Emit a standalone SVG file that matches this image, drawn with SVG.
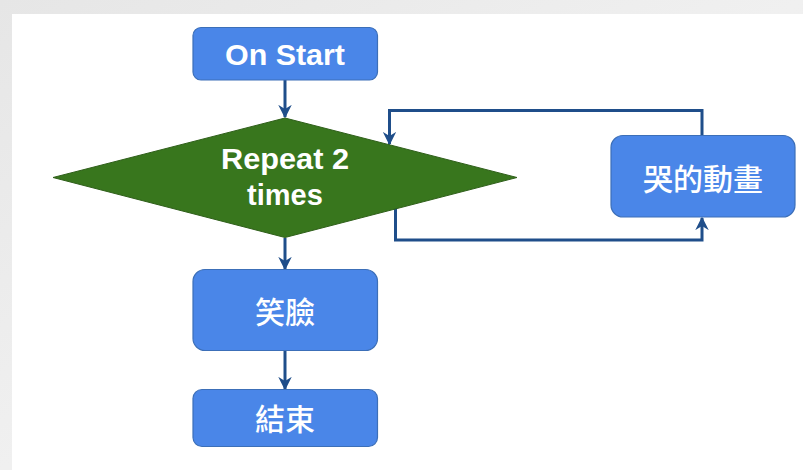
<svg xmlns="http://www.w3.org/2000/svg" width="803" height="470" viewBox="0 0 803 470">
<defs>
<style>
.box{fill:#4a86e8;stroke:#3c6fb8;stroke-width:1.2}
.dia{fill:#38761d;stroke:#2f5f1a;stroke-width:1}
.lbl{fill:#ffffff;font-family:"Liberation Sans","Noto Sans CJK TC",sans-serif;font-weight:bold;text-anchor:middle;dominant-baseline:central}
.cjk{fill:#ffffff;font-family:"Noto Sans CJK TC","Liberation Sans",sans-serif;font-weight:500;text-anchor:middle;dominant-baseline:central}
.con{fill:none;stroke:#1f4e8a;stroke-width:3;stroke-linejoin:miter}
</style>
<marker id="ah" viewBox="0 0 10 10" refX="9" refY="5" markerWidth="4.5" markerHeight="4.5" orient="auto" markerUnits="strokeWidth">
<path d="M0,0 L10,5 L0,10 L3,5 Z" fill="#1f4e8a"/>
</marker>
<linearGradient id="bg" x1="0" y1="0" x2="1" y2="1">
<stop offset="0" stop-color="#e6e6e6"/>
<stop offset="0.5" stop-color="#f0f0f0"/>
<stop offset="1" stop-color="#e9e9e9"/>
</linearGradient>
</defs>
<rect x="0" y="0" width="803" height="470" fill="url(#bg)"/>
<rect x="12" y="14" width="791" height="456" fill="#ffffff"/>
<g id="connectors">
<line class="con" x1="285" y1="80" x2="285" y2="117" marker-end="url(#ah)"/>
<line class="con" x1="285" y1="238" x2="285" y2="269" marker-end="url(#ah)"/>
<line class="con" x1="285" y1="351" x2="285" y2="389" marker-end="url(#ah)"/>
<polyline class="con" points="702,136 702,110.5 389.5,110.5 389.5,144" marker-end="url(#ah)"/>
<polyline class="con" points="395.5,208 395.5,240 702,240 702,218" marker-end="url(#ah)"/>
</g>
<g id="onstart">
<rect class="box" x="193" y="27.5" width="184.5" height="52.5" rx="8"/>
<text class="lbl" x="285" y="54" font-size="30" textLength="120" lengthAdjust="spacingAndGlyphs">On Start</text>
</g>
<g id="repeat">
<polygon class="dia" points="285,118 517,177.5 285,237.5 53,177.5"/>
<text class="lbl" x="285" y="159" font-size="29" textLength="128" lengthAdjust="spacingAndGlyphs">Repeat 2</text>
<text class="lbl" x="285" y="195" font-size="29">times</text>
</g>
<g id="cry">
<rect class="box" x="611" y="135.5" width="184" height="81.5" rx="12"/>
<text class="cjk" x="703" y="177" font-size="30">哭的動畫</text>
</g>
<g id="smile">
<rect class="box" x="193" y="269.5" width="184.5" height="81" rx="12"/>
<text class="cjk" x="285" y="310" font-size="30">笑臉</text>
</g>
<g id="end">
<rect class="box" x="193" y="389.5" width="184.5" height="57" rx="9"/>
<text class="cjk" x="285" y="417" font-size="30">結束</text>
</g>
</svg>
